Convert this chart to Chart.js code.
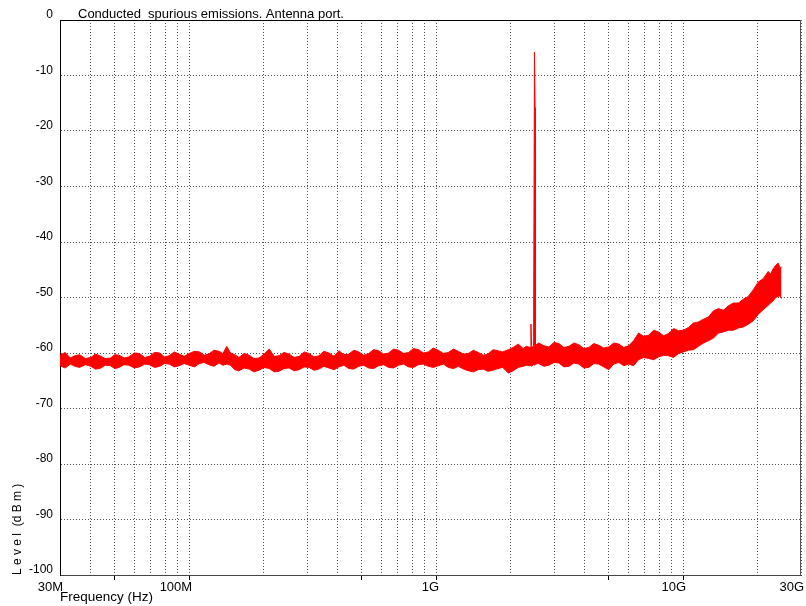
<!DOCTYPE html>
<html>
<head>
<meta charset="utf-8">
<script src="https://cdn.jsdelivr.net/npm/chart.js@4/dist/chart.umd.min.js"></script>
<style>
    body { margin: 0; background: #fff; }
    canvas { display: block; }
</style>
</head>
<body>
<canvas id="spuriousChart" width="806" height="606"></canvas>
<script>
// frequency points of the trace (MHz) with the upper / lower edge of the noise band (dBm)
const freqMHz = [
    30, 31.5, 33, 34.5, 36, 38, 40, 41.7, 43.5, 45.7,
    48, 50, 52, 54.5, 57, 60, 63, 66, 69, 72.5,
    76, 79.5, 83, 87, 91, 95.5, 100, 105, 110, 115,
    120, 126, 132, 137, 142, 147, 153, 159, 167, 175,
    183, 192, 201, 211, 221, 231, 242, 254, 266, 279,
    292, 306, 320, 335, 351, 368, 386, 404, 423, 443,
    464, 486, 509, 533, 558, 585, 613, 642, 672, 704,
    738, 773, 810, 848, 888, 930, 974, 1020, 1070, 1120,
    1175, 1230, 1290, 1350, 1415, 1480, 1550, 1620, 1700, 1780,
    1860, 1960, 2050, 2150, 2250, 2320, 2400, 2420, 2435, 2480,
    2500, 2515, 2525, 2600, 2730, 2860, 3000, 3140, 3290, 3450,
    3610, 3780, 3960, 4150, 4350, 4550, 4770, 5000, 5240, 5490,
    5750, 6020, 6300, 6600, 6920, 7250, 7590, 7950, 8330, 8730,
    9150, 9580, 10030, 10500, 11000, 11540, 12090, 12660, 13270, 13900,
    14560, 15250, 15980, 16730, 17530, 18360, 19230, 20150, 21100, 22100,
    22600, 23150, 23700, 24260, 24600, 25000
]
const upperDbm = [
    -60.4, -59.9, -60.9, -60.5, -60.3, -61.0, -60.8, -60.2, -60.5, -61.0,
    -60.9, -60.3, -60.4, -60.9, -60.7, -60.0, -60.1, -60.8, -60.6, -59.9,
    -60.0, -60.7, -60.5, -59.8, -60.2, -60.6, -60.1, -59.7, -59.8, -60.4,
    -60.2, -59.5, -59.7, -60.1, -58.8, -60.0, -60.3, -60.8, -60.1, -60.4,
    -61.0, -60.9, -60.2, -59.3, -60.6, -60.5, -59.9, -60.2, -60.8, -60.6,
    -59.8, -60.1, -60.7, -60.5, -59.7, -60.0, -60.6, -59.6, -60.3, -60.2,
    -59.5, -59.8, -60.4, -60.1, -59.4, -59.6, -60.2, -60.0, -59.3, -59.5,
    -60.1, -59.9, -59.2, -59.4, -60.0, -59.8, -59.1, -59.5, -60.1, -59.9,
    -59.3, -59.7, -60.2, -60.1, -59.5, -59.9, -60.4, -60.2, -59.4, -59.6,
    -59.8, -59.4, -59.0, -58.4, -59.2, -58.8, -59.0, -54.8, -59.0, -58.8,
    -5.8, -15.8, -58.6, -58.2, -58.7, -58.9, -58.1, -58.3, -59.0, -58.8,
    -58.2, -58.5, -59.2, -59.0, -58.3, -58.6, -59.1, -58.9, -58.2, -58.4,
    -59.0, -58.7, -57.8, -56.4, -57.0, -56.8, -55.9, -56.2, -56.9, -56.5,
    -55.6, -56.0, -55.9, -55.4, -54.6, -54.4, -53.9, -53.5, -52.4, -52.0,
    -52.3, -51.5, -51.0, -51.0, -50.3, -49.8, -48.6, -47.2, -46.6, -45.3,
    -45.8, -44.8, -44.2, -43.8, -44.6, -44.5
]
const lowerDbm = [
    -62.3, -62.7, -62.0, -62.4, -62.6, -62.1, -62.4, -62.9, -62.8, -62.2,
    -62.3, -62.8, -62.6, -62.1, -62.2, -62.7, -62.5, -62.0, -62.1, -62.6,
    -62.4, -61.9, -62.0, -62.5, -62.3, -61.9, -62.2, -62.5, -61.9, -61.7,
    -62.1, -62.4, -61.8, -62.2, -62.0, -62.2, -63.0, -63.2, -62.7, -62.9,
    -63.4, -63.1, -62.6, -62.8, -63.4, -63.3, -62.8, -62.7, -63.2, -63.0,
    -62.5, -62.6, -63.1, -62.9, -62.4, -62.7, -63.0, -62.5, -62.2, -62.8,
    -62.9, -62.4, -62.2, -62.7, -62.8, -62.3, -62.1, -62.6, -62.7, -62.2,
    -62.0, -62.5, -62.6, -62.1, -62.0, -62.4, -62.6, -62.3, -62.0, -62.6,
    -62.8, -62.4, -62.9, -63.2, -63.4, -63.0, -62.9, -63.3, -63.1, -62.8,
    -62.6, -63.6, -63.2, -62.6, -62.4, -62.2, -62.3, -62.1, -62.4, -62.0,
    -62.2, -62.1, -62.0, -61.9, -62.4, -62.2, -61.7, -61.8, -62.5, -62.4,
    -61.8, -62.0, -62.7, -62.6, -61.9, -62.0, -62.5, -63.0, -62.0, -61.7,
    -62.3, -62.0, -62.3, -61.2, -60.8, -61.0, -61.2, -60.7, -60.4, -60.5,
    -60.8, -60.1, -59.8, -59.5, -59.4, -58.8, -58.2, -57.8, -57.3, -56.4,
    -56.2, -55.9, -55.9, -55.5, -55.3, -54.8, -54.2, -53.0, -52.2, -51.4,
    -51.0, -50.6, -50.0, -49.8, -49.7, -50.2
]

// axis ticks
const xGridMHz = [
    30, 40, 50, 60, 70, 80, 90, 100, 200, 300, 400, 500, 600, 700, 800, 900,
    1000, 2000, 3000, 4000, 5000, 6000, 7000, 8000, 9000, 10000, 20000, 30000
]
const xMajorMHz = [50, 100, 500, 1000, 5000, 10000]
const xLabelMHz = [30, 100, 1000, 10000, 30000]
const xLabelText = ["30M", "100M", "1G", "10G", "30G"]

const chartTitle = "Conducted  spurious emissions. Antenna port."
const fontFamily = "'Liberation Sans', Arial, sans-serif"

const toPoints = (ys) => freqMHz.map((f, i) => ({ x: f, y: ys[i] }))

// frame on top / right plus the title text
const framePlugin = {
    id: "frame",
    afterDraw(chart) {
        const { ctx, chartArea } = chart
        ctx.save()
        ctx.lineWidth = 1
        ctx.strokeStyle = "#000"
        ctx.beginPath()
        ctx.moveTo(chartArea.left, chartArea.top + 0.5)
        ctx.lineTo(chartArea.right, chartArea.top + 0.5)
        ctx.stroke()
        ctx.strokeStyle = "#555"
        ctx.beginPath()
        ctx.moveTo(chartArea.right - 0.5, chartArea.top)
        ctx.lineTo(chartArea.right - 0.5, chartArea.bottom)
        ctx.stroke()
        ctx.fillStyle = "#000"
        ctx.font = "13px " + fontFamily
        ctx.textBaseline = "middle"
        ctx.fillText(chartTitle, chartArea.left + 18, 14)
        ctx.restore()
    },
}

const ctx = document.getElementById("spuriousChart").getContext("2d")

new Chart(ctx, {
    type: "line",
    data: {
        datasets: [
            {
                label: "upper",
                data: toPoints(upperDbm),
                borderColor: "#ff0000",
                backgroundColor: "#ff0000",
                borderWidth: 1,
                pointRadius: 0,
                tension: 0,
                fill: "+1",
            },
            {
                label: "lower",
                data: toPoints(lowerDbm),
                borderColor: "#ff0000",
                backgroundColor: "#ff0000",
                borderWidth: 1,
                pointRadius: 0,
                tension: 0,
                fill: false,
            },
        ],
    },
    options: {
        responsive: false,
        animation: false,
        events: [],
        layout: { padding: { top: 20, right: 5, left: 0, bottom: 0 } },
        plugins: {
            legend: { display: false },
            tooltip: { enabled: false },
        },
        scales: {
            x: {
                type: "logarithmic",
                min: 30,
                max: 30000,
                afterBuildTicks: (scale) => {
                    scale.ticks = xGridMHz.map((v) => ({ value: v }))
                },
                afterFit: (scale) => {
                    scale.height = 31
                    scale.paddingLeft = 0
                    scale.paddingRight = 0
                },
                ticks: {
                    autoSkip: false,
                    maxRotation: 0,
                    minRotation: 0,
                    align: "end",
                    labelOffset: 3,
                    padding: 0,
                    color: "#000",
                    font: { family: fontFamily, size: 13 },
                    callback: (value) => {
                        const i = xLabelMHz.indexOf(value)
                        return i >= 0 ? xLabelText[i] : ""
                    },
                },
                grid: {
                    color: "#555",
                    lineWidth: 1,
                    drawTicks: true,
                    tickLength: 5,
                    tickBorderDash: [],
                    tickColor: (c) =>
                        c.tick && xMajorMHz.includes(c.tick.value) ? "#000" : "rgba(0,0,0,0)",
                },
                border: { display: true, color: "#444", width: 1, dash: [1, 2] },
                title: {
                    display: true,
                    text: "Frequency (Hz)",
                    align: "start",
                    color: "#000",
                    font: { family: fontFamily, size: 13.5 },
                    padding: { top: 0, bottom: 1 },
                },
            },
            y: {
                min: -100,
                max: 0,
                afterFit: (scale) => {
                    scale.width = 60
                    scale.paddingTop = 0
                    scale.paddingBottom = 0
                },
                ticks: {
                    stepSize: 10,
                    labelOffset: -5,
                    padding: 7,
                    color: "#000",
                    font: { family: fontFamily, size: 12 },
                },
                grid: {
                    color: "#555",
                    lineWidth: 1,
                    drawTicks: false,
                },
                border: { display: true, color: "#000", width: 1, dash: [1, 2] },
                title: {
                    display: true,
                    text: "L e v e l  (d B m )",
                    align: "start",
                    color: "#000",
                    font: { family: fontFamily, size: 12 },
                    padding: { top: 10, bottom: 0 },
                },
            },
        },
    },
    plugins: [framePlugin],
})
</script>
</body>
</html>
